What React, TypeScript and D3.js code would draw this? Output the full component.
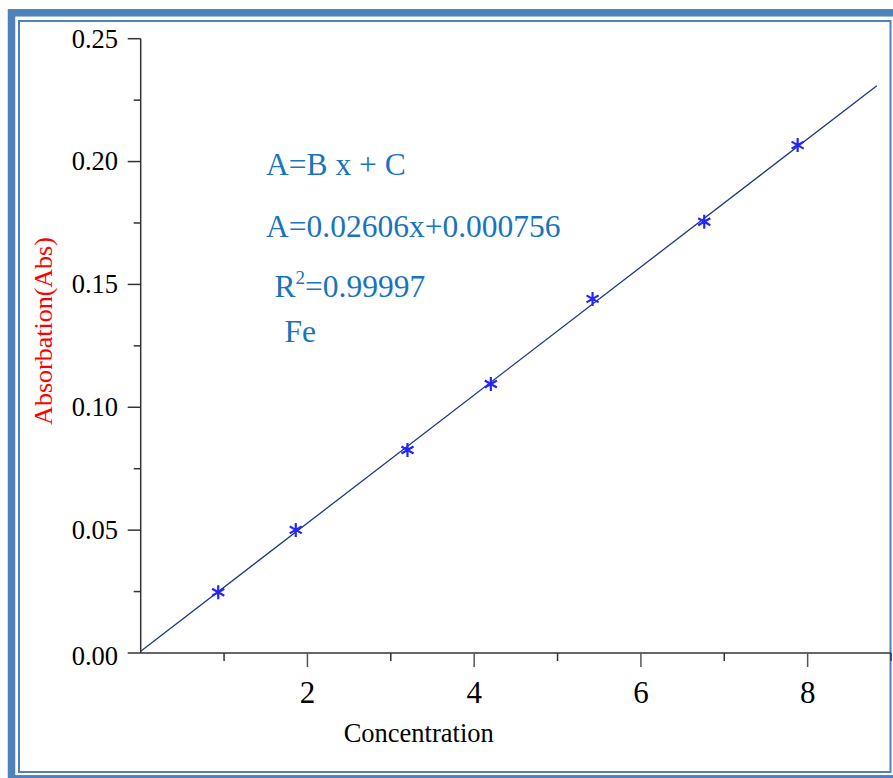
import React, { useEffect, useRef } from "react";
import * as d3 from "d3";

// measured points (Concentration vs Absorbance)
const concentration = [0.93, 1.86, 3.2, 4.2, 5.42, 6.76, 7.88];
const absorbance = [0.0247, 0.0501, 0.0826, 0.1095, 0.1441, 0.1755, 0.2067];

// linear fit A = B x + C
const fitSlope = 0.02606;
const fitIntercept = 0.000756;
const fitRange = [0, 8.83];

const xMajor = [2, 4, 6, 8];
const xMinor = [1, 3, 5, 7, 9];
const yMajor = [0, 0.05, 0.1, 0.15, 0.2, 0.25];
const yMinor = [0.025, 0.075, 0.125, 0.175, 0.225];
const yLabels = ["0.00", "0.05", "0.10", "0.15", "0.20", "0.25"];

const W = 893;
const H = 778;

const App = () => {
  const svgRef = useRef<SVGSVGElement | null>(null);

  useEffect(() => {
    const svg = d3.select(svgRef.current);
    svg.selectAll("*").remove();

    const x = d3.scaleLinear().domain([0, 9]).range([140.7, 891]);
    const y = d3.scaleLinear().domain([0, 0.25]).range([653, 38.7]);

    // frame
    svg
      .append("rect")
      .attr("x", 11.5)
      .attr("y", 12.8)
      .attr("width", 900)
      .attr("height", 766)
      .attr("fill", "none")
      .attr("stroke", "#4f81bd")
      .attr("stroke-width", 7.5);
    svg
      .append("rect")
      .attr("x", 19)
      .attr("y", 21)
      .attr("width", 871.5)
      .attr("height", 751)
      .attr("fill", "none")
      .attr("stroke", "#4f81bd")
      .attr("stroke-width", 2);

    const axisColor = "#333";

    // axes lines
    svg
      .append("line")
      .attr("x1", x(0))
      .attr("x2", x(0))
      .attr("y1", y(0.25))
      .attr("y2", y(0))
      .attr("stroke", axisColor)
      .attr("stroke-width", 1.5);
    svg
      .append("line")
      .attr("x1", x(0))
      .attr("x2", x(9))
      .attr("y1", y(0))
      .attr("y2", y(0))
      .attr("stroke", axisColor)
      .attr("stroke-width", 1.5);

    // y ticks
    svg
      .selectAll(".ymaj")
      .data(yMajor)
      .enter()
      .append("line")
      .attr("x1", x(0) - 13)
      .attr("x2", x(0))
      .attr("y1", (d) => y(d))
      .attr("y2", (d) => y(d))
      .attr("stroke", axisColor)
      .attr("stroke-width", 1.5);
    svg
      .selectAll(".ymin")
      .data(yMinor)
      .enter()
      .append("line")
      .attr("x1", x(0) - 7)
      .attr("x2", x(0))
      .attr("y1", (d) => y(d))
      .attr("y2", (d) => y(d))
      .attr("stroke", axisColor)
      .attr("stroke-width", 1.5);
    svg
      .selectAll(".ylab")
      .data(yMajor)
      .enter()
      .append("text")
      .attr("x", 118)
      .attr("y", (d) => y(d) + (d === 0 ? 12 : 8.8))
      .attr("text-anchor", "end")
      .style("font-family", "'Liberation Serif', 'Times New Roman', serif")
      .style("font-size", "26.5px")
      .style("fill", "#000")
      .text((d, i) => yLabels[i]);

    // x ticks
    svg
      .selectAll(".xmaj")
      .data(xMajor)
      .enter()
      .append("line")
      .attr("x1", (d) => x(d))
      .attr("x2", (d) => x(d))
      .attr("y1", y(0))
      .attr("y2", y(0) + 14)
      .attr("stroke", "#555")
      .attr("stroke-width", 1.5);
    svg
      .selectAll(".xmin")
      .data(xMinor)
      .enter()
      .append("line")
      .attr("x1", (d) => x(d))
      .attr("x2", (d) => x(d))
      .attr("y1", y(0))
      .attr("y2", y(0) + 8)
      .attr("stroke", axisColor)
      .attr("stroke-width", 1.5);
    svg
      .selectAll(".xlab")
      .data(xMajor)
      .enter()
      .append("text")
      .attr("x", (d) => x(d))
      .attr("y", 703)
      .attr("text-anchor", "middle")
      .style("font-family", "'Liberation Serif', 'Times New Roman', serif")
      .style("font-size", "31px")
      .style("fill", "#000")
      .text((d) => String(d));

    // axis titles
    svg
      .append("text")
      .attr("x", 418.7)
      .attr("y", 741.5)
      .attr("text-anchor", "middle")
      .style("font-family", "'Liberation Serif', 'Times New Roman', serif")
      .style("font-size", "26.5px")
      .style("fill", "#000")
      .text("Concentration");
    svg
      .append("text")
      .attr("transform", "translate(52,331) rotate(-90)")
      .attr("text-anchor", "middle")
      .style("font-family", "'Liberation Serif', 'Times New Roman', serif")
      .style("font-size", "26px")
      .style("fill", "#ff0000")
      .text("Absorbation(Abs)");

    // fit line
    const line = d3
      .line<number>()
      .x((d) => x(d))
      .y((d) => y(fitSlope * d + fitIntercept));
    svg
      .append("path")
      .datum(fitRange)
      .attr("d", line)
      .attr("fill", "none")
      .attr("stroke", "#1c3a80")
      .attr("stroke-width", 1.3);

    // asterisk markers
    const r = 7;
    const star = [90, 30, -30]
      .map((a) => {
        const dx = r * Math.cos((a * Math.PI) / 180);
        const dy = r * Math.sin((a * Math.PI) / 180);
        return `M${-dx},${dy}L${dx},${-dy}`;
      })
      .join("");
    svg
      .selectAll(".pt")
      .data(concentration)
      .enter()
      .append("path")
      .attr("transform", (d, i) => `translate(${x(d)},${y(absorbance[i])})`)
      .attr("d", star)
      .attr("fill", "none")
      .attr("stroke", "#2424ff")
      .attr("stroke-width", 2.2);

    // equation annotation
    const eqColor = "#1a73bd";
    const eqFont = "'Liberation Serif', 'Times New Roman', serif";
    const eq = svg
      .append("g")
      .style("font-family", eqFont)
      .style("font-size", "31.5px")
      .style("fill", eqColor);
    eq.append("text").attr("x", 266).attr("y", 175).text("A=B x + C");
    eq.append("text").attr("x", 266).attr("y", 236.5).text("A=0.02606x+0.000756");
    const r2 = eq.append("text").attr("x", 274.5).attr("y", 296.5);
    r2.append("tspan").text("R");
    r2.append("tspan").attr("dy", -13).style("font-size", "19px").text("2");
    r2.append("tspan").attr("dy", 13).text("=0.99997");
    eq.append("text").attr("x", 284.5).attr("y", 341.5).text("Fe");
  }, []);

  return (
    <svg
      ref={svgRef}
      width={W}
      height={H}
      style={{ position: "absolute", left: 0, top: 0, background: "#fff" }}
    />
  );
};

export default App;
